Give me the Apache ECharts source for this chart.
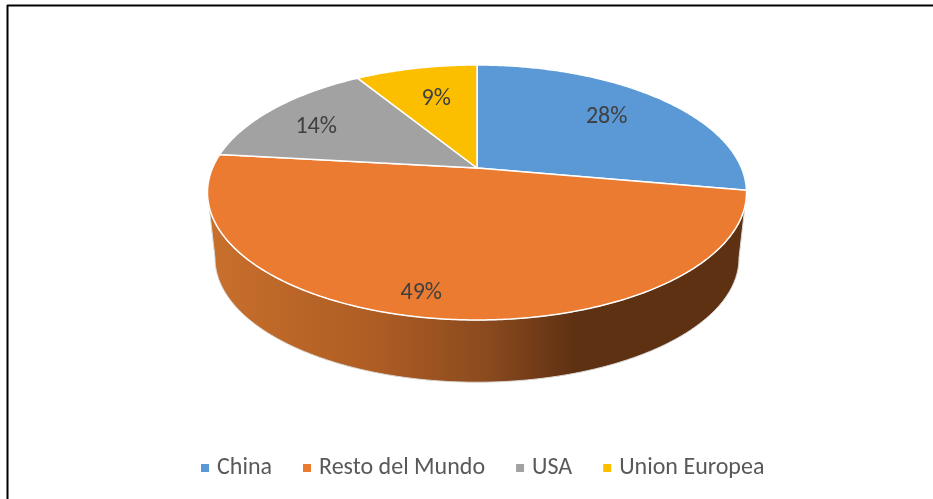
<!DOCTYPE html>
<html>
<head>
<meta charset="utf-8">
<style>
  html, body { margin: 0; padding: 0; background: #fff; }
  #chart { width: 933px; height: 499px; }
</style>
<script src="https://cdn.jsdelivr.net/npm/echarts@6/dist/echarts.min.js"></script>
</head>
<body>
<div id="chart"></div>
<script>
const categories = ['China', 'Resto del Mundo', 'USA', 'Union Europea']
const shares = [27.8, 49.0, 14.4, 8.8]
const colors = ['#5A99D5', '#EA7B30', '#A2A2A2', '#FCBF00']

const total = shares.reduce((a, b) => a + b, 0)

// perspective disc: apex sits above the centre of the ellipse
const cx = 477, apexY = 168, rx = 264.5, ry = 122.8, tilt = 0.192
const midY = 192.5, wallDrop = 65.8, wallScale = 0.972
// where each percent label goes relative to the slice's mid-angle
const labelNudge = [[-1, 0], [-25, 27], [-15, 2], [4, 4]]
const labelFont = '24px Carlito, "Open Sans", "Noto Sans", sans-serif'

const project = (angle, r) => {
  const u = Math.sin(angle) * r
  const v = Math.cos(angle) * r
  const w = 1 + tilt * v
  return [cx + rx * u / w, apexY - ry * v / w]
}

const arc = (from, to) => {
  const pts = []
  const steps = Math.max(2, Math.ceil(Math.abs(to - from) / 0.01))
  for (let i = 0; i <= steps; i++) {
    pts.push(project(from + (to - from) * i / steps, 1))
  }
  return pts
}

const startOf = idx => {
  let s = 0
  for (let i = 0; i < idx; i++) s += shares[i]
  return s / total * Math.PI * 2
}

const renderSlice = idx => (params, api) => {
  const from = startOf(idx)
  const to = from + api.value(0) / total * Math.PI * 2
  const at = project((from + to) / 2, 0.7)
  return {
    type: 'group',
    children: [
      {
        type: 'polygon',
        shape: { points: [[cx, apexY], ...arc(from, to)] },
        style: { fill: colors[idx], stroke: '#fff', lineWidth: 1.5, lineJoin: 'round' }
      },
      {
        type: 'text',
        z2: 10,
        style: {
          x: at[0] + labelNudge[idx][0],
          y: at[1] + labelNudge[idx][1],
          text: Math.round(api.value(0) / total * 100) + '%',
          fill: '#404040',
          font: labelFont,
          align: 'center',
          verticalAlign: 'middle'
        }
      }
    ]
  }
}

// side wall: front half of the rim down to a slightly smaller lower rim
const renderWall = () => {
  const side = Math.acos(-tilt)
  const upper = arc(side, Math.PI * 2 - side)
  const lower = upper.map(p => [
    cx + (p[0] - cx) * wallScale,
    midY + wallDrop + (p[1] - midY) * wallScale
  ])
  return {
    type: 'polygon',
    shape: { points: [...upper, ...lower.reverse()] },
    style: {
      stroke: '#d9d9d9',
      lineWidth: 1,
      fill: {
        type: 'linear', x: 0, y: 0, x2: 1, y2: 0,
        colorStops: [
          { offset: 0, color: '#C9702C' },
          { offset: 0.32, color: '#AD5C24' },
          { offset: 0.52, color: '#8A4A1E' },
          { offset: 0.68, color: '#5F3113' },
          { offset: 1, color: '#5F3113' }
        ]
      }
    }
  }
}

const chart = echarts.init(document.getElementById('chart'))

chart.setOption({
  animation: false,
  backgroundColor: '#fff',
  color: colors,
  legend: {
    bottom: 14,
    left: 196,
    data: categories,
    icon: 'rect',
    itemWidth: 8,
    itemHeight: 8,
    itemGap: 31,
    textStyle: { color: '#595959', fontSize: 24, padding: [0, 0, 0, 3], fontFamily: 'Carlito, "Open Sans", "Noto Sans", sans-serif' }
  },
  graphic: [
    { type: 'line', shape: { x1: 7, y1: 5.5, x2: 933, y2: 5.5 }, style: { stroke: '#000', lineWidth: 2 } },
    { type: 'line', shape: { x1: 7.5, y1: 5, x2: 7.5, y2: 499 }, style: { stroke: '#000', lineWidth: 2 } }
  ],
  series: [
    {
      type: 'custom',
      name: 'wall',
      coordinateSystem: 'none',
      silent: true,
      z: 1,
      renderItem: renderWall,
      data: [0]
    },
    ...categories.map((name, i) => ({
      type: 'custom',
      name,
      coordinateSystem: 'none',
      z: 2,
      itemStyle: { color: colors[i] },
      renderItem: renderSlice(i),
      encode: { value: 0 },
      data: [shares[i]]
    }))
  ]
})

window.addEventListener('resize', () => chart.resize())
</script>
</body>
</html>
